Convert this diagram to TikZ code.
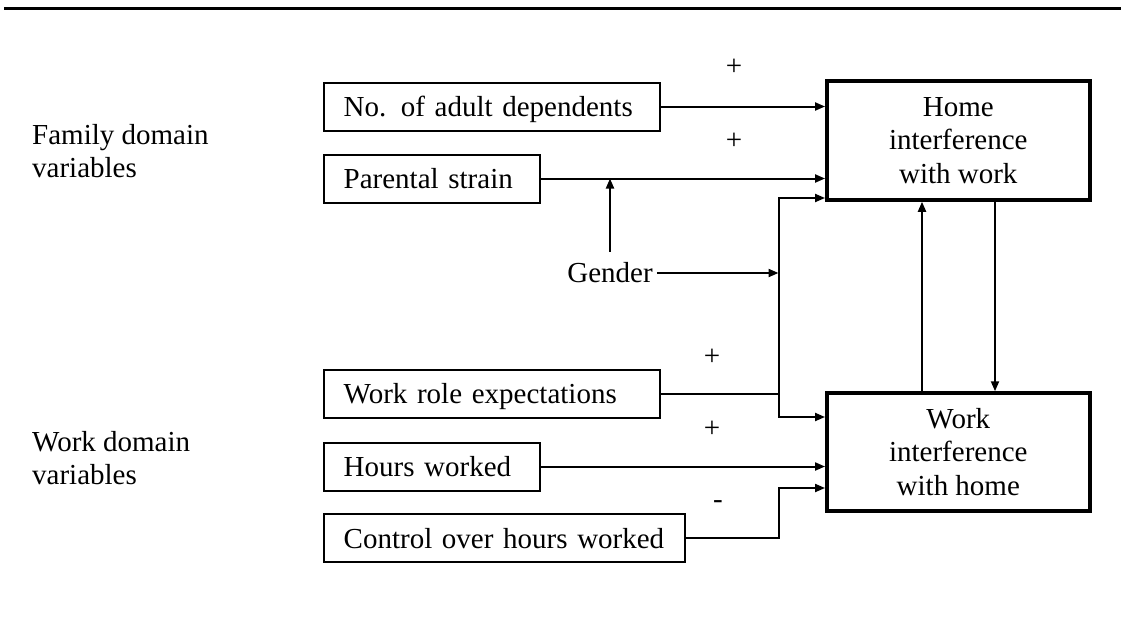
\documentclass[tikz,border=0pt]{standalone}
\usepackage{fontspec}
\setmainfont{Liberation Serif}
\usetikzlibrary{arrows.meta}
\begin{document}
\begin{tikzpicture}[x=1pt,y=-1pt,
  font=\fontsize{29}{33.5}\selectfont,
  varbox/.style={draw, line width=2pt, inner xsep=20pt, inner ysep=0pt,
    minimum height=48pt, align=left, anchor=west,
    execute at begin node={\rule[-6.3pt]{0pt}{32.6pt}}},
  outbox/.style={draw, line width=3.5pt, inner sep=0pt,
    minimum width=263pt, align=center},
  arr/.style={line width=2pt, line join=miter, -{Triangle[length=10pt,width=8pt]}},
  link/.style={line width=2pt, line join=miter},
  sign/.style={inner sep=0pt},
  label/.style={inner sep=0pt, align=left, anchor=west}]
\useasboundingbox (0,0) rectangle (1121,637);

% rule across the top
\coordinate (ruleL) at (4,8);
\coordinate (ruleR) at (1121,8);
\draw[line width=3pt] (ruleL) -- (ruleR);

% group labels
\node[label] (famlabel) at (32,151) {Family domain\\variables};
\node[label] (worklabel) at (32,458) {Work domain\\variables};

% predictor boxes
\node[varbox, text width=296.3pt] (adult)    at (322.7,106.5) {No. of adult dependents};
\node[varbox, text width=176.3pt] (parental) at (322.7,178.5) {Parental strain};
\node[varbox, text width=296.3pt] (workrole) at (322.7,393.5) {Work role expectations};
\node[varbox, text width=176.0pt] (hours)    at (322.7,466.5) {Hours worked};
\node[varbox, text width=321.3pt] (control)  at (322.7,538.0) {Control over hours worked};

% outcome boxes
\node[outbox, minimum height=119pt] (home) at (958.3,140.5) {Home\\interference\\with work};
\node[outbox, minimum height=118pt] (work) at (958.3,452.0) {Work\\interference\\with home};

% moderator
\node[inner xsep=4pt, inner ysep=0pt] (gender) at (610,273) {Gender};

% routing points
\coordinate (jx)     at (778.5,0);
\coordinate (jtop)   at (778.5,198);
\coordinate (jbot)   at (778.5,417);
\coordinate (ctrlin) at (778.5,488);
\coordinate (upx)    at (922,0);
\coordinate (dnx)    at (995,0);

% direct paths
\draw[arr] (adult.east) -- (adult.east -| home.west);
\draw[arr] (parental.east) -- (parental.east -| home.west);
\draw[arr] (hours.east) -- (hours.east -| work.west);
\draw[arr] (control.east) -- (control.east -| jx) -- (ctrlin) -- (ctrlin -| work.west);

% gender moderation
\draw[arr] ([yshift=11pt]gender.north) -- (gender.north |- parental.east);
\draw[arr] (gender.east) -- (gender.east -| jx);

% shared trunk to both outcomes
\draw[link] (workrole.east) -- (workrole.east -| jx);
\draw[arr] (jbot) -- (jtop) -- (jtop -| home.west);
\draw[arr] (jtop) -- (jbot) -- (jbot -| work.west);

% reciprocal paths
\draw[arr] (work.north -| upx) -- (home.south -| upx);
\draw[arr] (home.south -| dnx) -- (work.north -| dnx);

% signs
\node[sign] (s1) at (734,67)  {+};
\node[sign] (s2) at (734,141) {+};
\node[sign] (s3) at (712,357) {+};
\node[sign] (s4) at (712,429) {+};
\node[sign] (s5) at (718,505) {-};
\end{tikzpicture}
\end{document}
